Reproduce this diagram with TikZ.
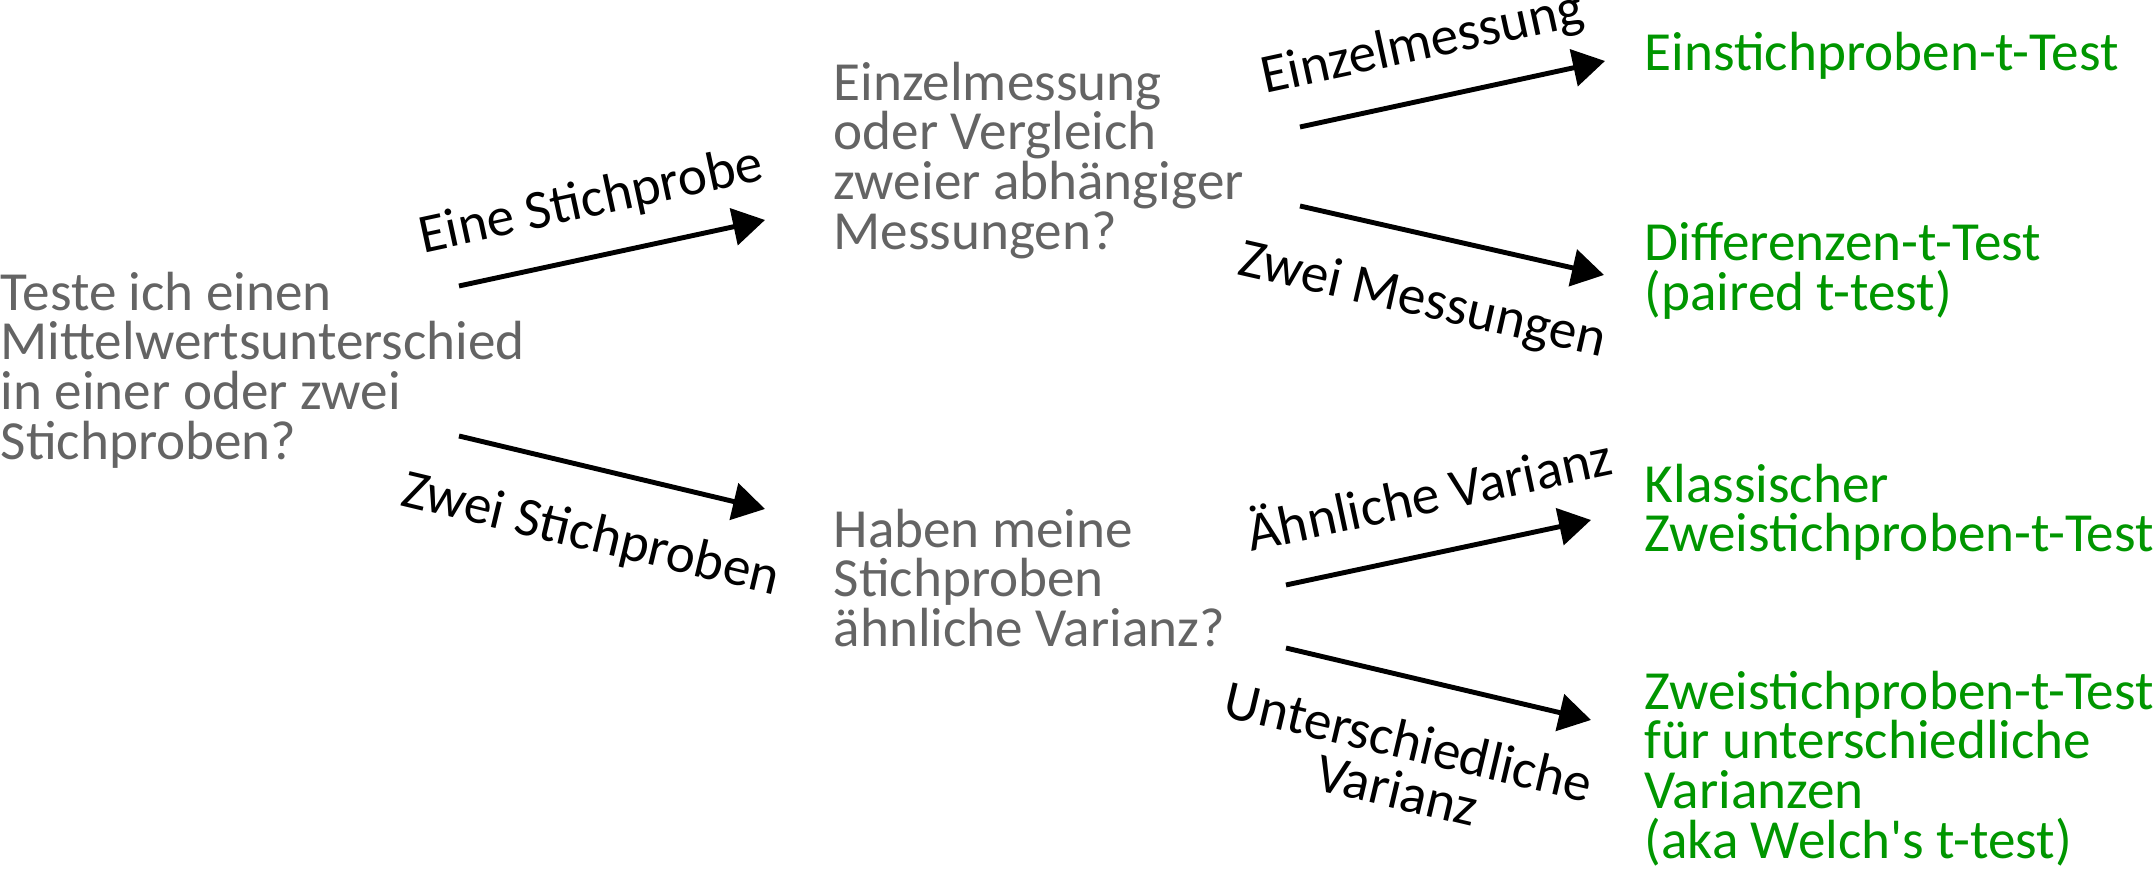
\documentclass[tikz,border=0pt]{standalone}
\usepackage{fontspec}
\setmainfont{Carlito}
\usetikzlibrary{arrows.meta}
\definecolor{qgray}{RGB}{100,100,100}
\definecolor{tgreen}{RGB}{0,150,0}

\begin{document}
\begin{tikzpicture}[scale=1.0,
    every node/.style={font=\fontsize{15.7}{14.2}\selectfont},
    question/.style={anchor=north west, inner sep=0pt, align=left, text=qgray},
    result/.style={anchor=north west, inner sep=0pt, align=left, text=tgreen},
    arr/.style={-{Triangle[length=3.2mm,width=3.7mm]}, line width=1.4pt},
    lblup/.style={sloped, above, align=center, inner sep=8.1pt, text depth=0.25em},
    lbldown/.style={sloped, below, align=center, inner sep=11.5pt}]
    \useasboundingbox (0,0) rectangle (21.55,8.75);
    % questions
    \node[question] (start) at (0,6.04) {Teste ich einen\\Mittelwertsunterschied\\in einer oder zwei\\Stichproben?};
    \node[question] (paired) at (8.33,8.14) {Einzelmessung\\oder Vergleich\\zweier abhängiger\\Messungen?};
    \node[question] (variance) at (8.33,3.67) {Haben meine\\Stichproben\\ähnliche Varianz?};
    % tests
    \node[result] (onesample) at (16.44,8.44) {Einstichproben-t-Test};
    \node[result] (diff) at (16.44,6.53) {Differenzen-t-Test\\(paired t-test)};
    \node[result] (classic) at (16.44,4.12) {Klassischer\\Zweistichproben-t-Test};
    \node[result] (welch) at (16.44,2.05) {Zweistichproben-t-Test\\für unterschiedliche\\Varianzen\\(aka Welch\textquotesingle s t-test)};
    % arrow ends
    \coordinate (s1) at (4.59,5.89);  \coordinate (e1) at (7.65,6.55);
    \coordinate (s2) at (4.59,4.39);  \coordinate (e2) at (7.65,3.66);
    \coordinate (s3) at (13.00,7.48); \coordinate (e3) at (16.05,8.14);
    \coordinate (s4) at (13.00,6.69); \coordinate (e4) at (16.04,6.00);
    \coordinate (s5) at (12.86,2.90); \coordinate (e5) at (15.91,3.55);
    \coordinate (s6) at (12.86,2.27); \coordinate (e6) at (15.91,1.55);
    \draw[arr] (s1) -- (e1) node[lblup, pos=0.47] {Eine Stichprobe};
    \draw[arr] (s2) -- (e2) node[lbldown, pos=0.48] {Zwei Stichproben};
    \draw[arr] (s3) -- (e3) node[lblup, pos=0.44] {Einzelmessung};
    \draw[arr] (s4) -- (e4) node[lbldown, pos=0.45] {Zwei Messungen};
    \draw[arr] (s5) -- (e5) node[lblup, pos=0.51] {Ähnliche Varianz};
    \draw[arr] (s6) -- (e6) node[lbldown, pos=0.45] {Unterschiedliche\\Varianz};
\end{tikzpicture}
\end{document}
